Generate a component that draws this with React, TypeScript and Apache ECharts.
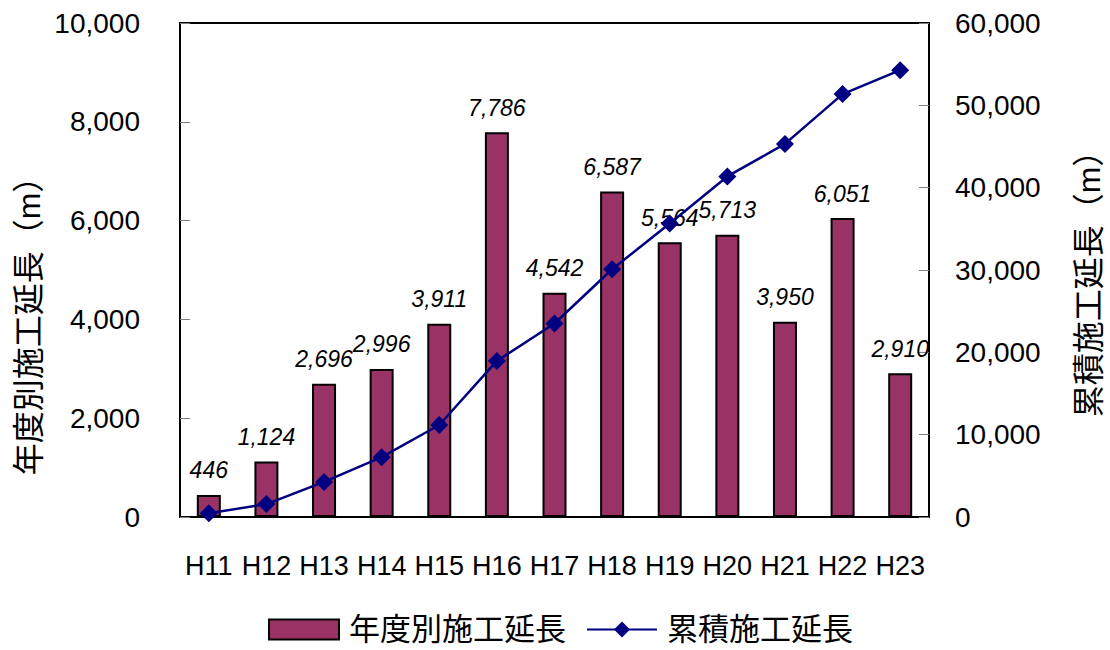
import React, { useEffect, useRef } from "react";
import * as echarts from "echarts";

const categories = ["H11", "H12", "H13", "H14", "H15", "H16", "H17", "H18", "H19", "H20", "H21", "H22", "H23"];
const annualLength = [446, 1124, 2696, 2996, 3911, 7786, 4542, 6587, 5564, 5713, 3950, 6051, 2910];
const cumulativeLength = [446, 1570, 4266, 7262, 11173, 18959, 23501, 30088, 35652, 41365, 45315, 51366, 54276];
const seriesNames = ["年度別施工延長", "累積施工延長"];
const leftAxisName = "年度別施工延長（m）";
const rightAxisName = "累積施工延長（m）";

const FONT = "'Liberation Sans', 'Noto Sans CJK JP', sans-serif";
const fmt = (v: number) => String(v).replace(/\B(?=(\d{3})+(?!\d))/g, ",");

export default function App() {
  const ref = useRef<HTMLDivElement>(null);
  useEffect(() => {
    if (!ref.current) return;
    const chart = echarts.init(ref.current, null, { renderer: "svg" });
    chart.setOption({
      animation: false,
      backgroundColor: "#fff",
      textStyle: { fontFamily: FONT },
      grid: {
        left: 180,
        right: 181,
        top: 23,
        bottom: 133,
        show: true,
        borderColor: "#000",
        borderWidth: 2,
        backgroundColor: "transparent",
      },
      legend: {
        left: 268,
        top: 614,
        padding: 0,
        itemWidth: 70,
        itemHeight: 20,
        itemGap: 20,
        textStyle: { fontSize: 31, color: "#000", fontFamily: FONT, padding: [0, 0, 0, 5] },
        data: [
          { name: seriesNames[0], icon: "rect" },
          { name: seriesNames[1] },
        ],
      },
      xAxis: {
        type: "category",
        data: categories,
        boundaryGap: true,
        axisLine: { lineStyle: { color: "#000", width: 2 } },
        axisTick: { inside: true, length: 10, lineStyle: { color: "#222", width: 1 } },
        axisLabel: { color: "#000", fontSize: 27, margin: 35, interval: 0, fontFamily: FONT },
        splitLine: { show: false },
      },
      yAxis: [
        {
          type: "value",
          min: 0,
          max: 10000,
          interval: 2000,
          axisLine: { show: true, lineStyle: { color: "#000", width: 2 } },
          axisTick: { show: true, inside: true, length: 10, lineStyle: { color: "#808080", width: 1 } },
          axisLabel: { color: "#000", fontSize: 28, margin: 40, formatter: (v: number) => fmt(v), fontFamily: FONT },
          splitLine: { show: false },
        },
        {
          type: "value",
          position: "right",
          min: 0,
          max: 60000,
          interval: 10000,
          axisLine: { show: true, lineStyle: { color: "#000", width: 2 } },
          axisTick: { show: true, inside: true, length: 10, lineStyle: { color: "#808080", width: 1 } },
          axisLabel: { color: "#000", fontSize: 28, margin: 26, formatter: (v: number) => fmt(v), fontFamily: FONT },
          splitLine: { show: false },
        },
      ],
      graphic: [
        {
          type: "text",
          x: 29,
          y: 318,
          rotation: Math.PI / 2,
          style: {
            text: leftAxisName,
            fontSize: 32,
            fontFamily: FONT,
            fill: "#000",
            textAlign: "center",
            textVerticalAlign: "middle",
          },
        },
        {
          type: "text",
          x: 1089,
          y: 276,
          rotation: Math.PI / 2,
          style: {
            text: rightAxisName,
            fontSize: 32,
            fontFamily: FONT,
            fill: "#000",
            textAlign: "center",
            textVerticalAlign: "middle",
          },
        },
      ],
      series: [
        {
          name: seriesNames[0],
          type: "bar",
          data: annualLength,
          barWidth: 24,
          itemStyle: { color: "#993366", borderColor: "#000", borderWidth: 2 },
          label: {
            show: true,
            position: "top",
            distance: 13,
            fontSize: 23,
            fontStyle: "italic",
            color: "#000",
            fontFamily: FONT,
            formatter: (p: any) => fmt(p.value),
          },
          z: 2,
        },
        {
          name: seriesNames[1],
          type: "line",
          yAxisIndex: 1,
          data: cumulativeLength,
          symbol: "diamond",
          symbolSize: 18,
          itemStyle: { color: "#000080" },
          lineStyle: { color: "#000080", width: 2.5 },
          z: 3,
        },
      ],
    });
    return () => chart.dispose();
  }, []);
  return <div ref={ref} style={{ width: 1110, height: 650, position: "absolute", left: 0, top: 0 }} />;
}
